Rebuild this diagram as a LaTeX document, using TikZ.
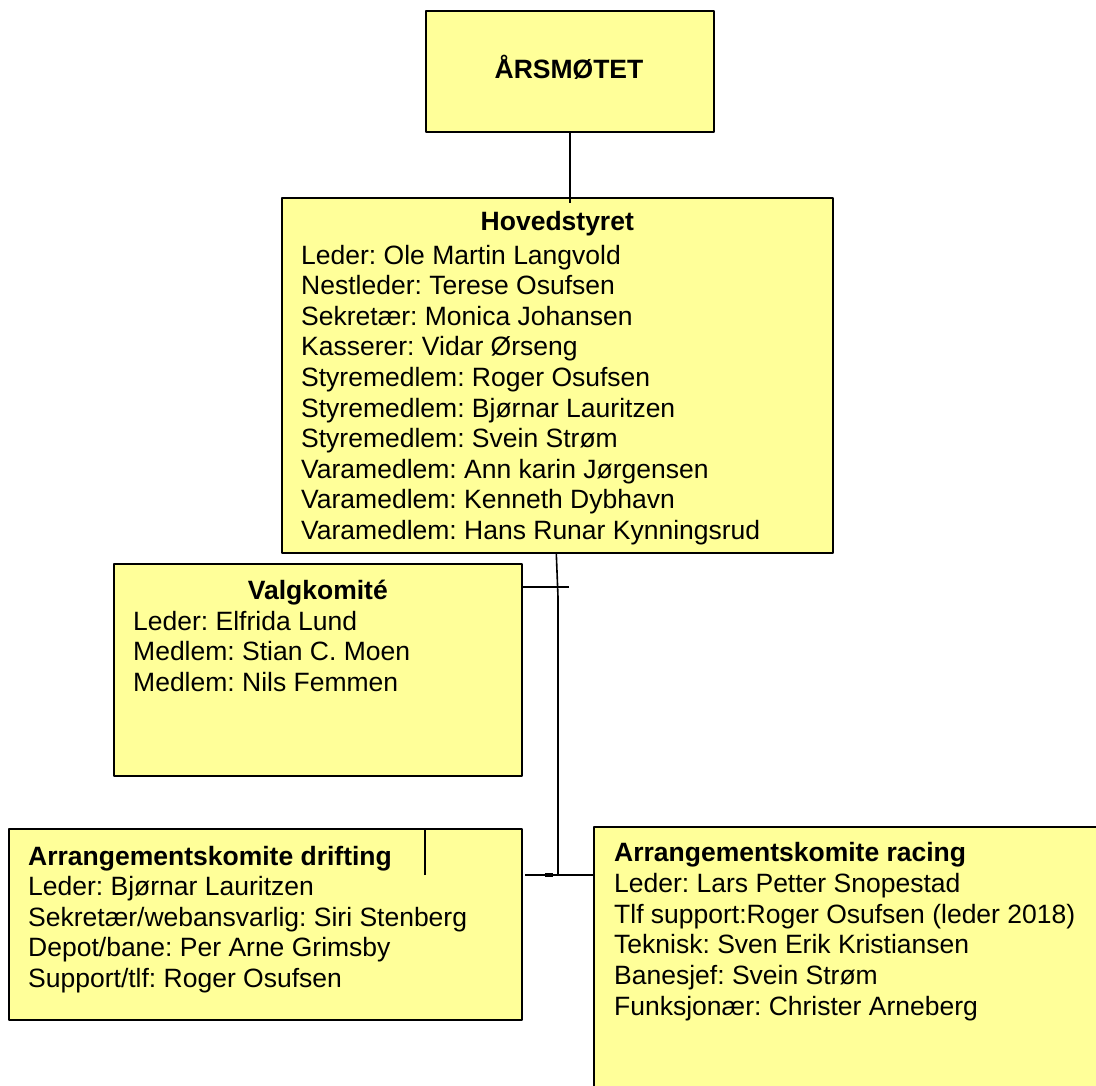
\documentclass[tikz,border=0pt]{standalone}
\usepackage{fontspec}
\setmainfont{Liberation Sans}
\usetikzlibrary{positioning}
\definecolor{boxyellow}{RGB}{255,255,153}
\newcommand{\orgfont}{\fontsize{26.5}{30.6}\selectfont\frenchspacing}
\tikzset{
  orgbox/.style={draw=black, line width=1.6pt, fill=boxyellow, anchor=north west, inner sep=0pt},
  boxtitle/.style={font=\orgfont\bfseries, anchor=base, inner sep=0pt},
  member/.style={anchor=base west, inner sep=0pt},
  link/.style={line width=1.6pt}
}
\begin{document}
\begin{tikzpicture}[x=1pt, y=-1pt, font=\orgfont, line join=round]
\useasboundingbox (0,0) rectangle (1096,1086);
% boxes
\node[orgbox, minimum width=288, minimum height=121] (aars) at (425,10) {};
\node[orgbox, minimum width=551, minimum height=355] (hoved) at (281,197) {};
\node[orgbox, minimum width=408, minimum height=212] (valg) at (113,563) {};
\node[orgbox, minimum width=513, minimum height=191] (drift) at (8,828) {};
\node[orgbox, minimum width=510, minimum height=270] (racing) at (593,826) {};
% connectors
\coordinate (knee) at (558,597);
\coordinate (fork) at (558,875);
\coordinate (vtap) at (569,587);
\coordinate (rtap) at (525,875);
\coordinate (dtap) at (425,875);
\draw[link] (aars.south) -- ([yshift=-6pt]aars.south |- hoved.north);
\draw[link] ([xshift=-1pt]hoved.south) -- (knee) -- (fork);
\draw[link] (vtap) -- (vtap -| valg.east);
\draw[link] (rtap) -- (rtap -| racing.west);
\draw[link] (dtap) -- (dtap |- drift.north);
\draw[line width=3.5pt] ([xshift=20pt]rtap) -- ([xshift=28pt]rtap);
% texts
\node[boxtitle] (aarstxt) at (569,79) {ÅRSMØTET};
\node[boxtitle] (hovedtxt) at ([yshift=-34pt]hoved.north) {Hovedstyret};
\foreach \line [count=\i] in {Leder: Ole Martin Langvold, Nestleder: Terese Osufsen,
  Sekretær: Monica Johansen, Kasserer: Vidar Ørseng, Styremedlem: Roger Osufsen,
  Styremedlem: Bjørnar Lauritzen, Styremedlem: Svein Strøm,
  Varamedlem: Ann karin Jørgensen, Varamedlem: Kenneth Dybhavn,
  Varamedlem: Hans Runar Kynningsrud}
  \node[member] (hoved\i) at (301,{233.5+30.6*\i}) {\line};
\node[boxtitle] (valgtxt) at ([yshift=-36pt]valg.north) {Valgkomité};
\foreach \line [count=\i] in {Leder: Elfrida Lund, Medlem: Stian C. Moen, Medlem: Nils Femmen}
  \node[member] (valg\i) at (133,{599.4+30.6*\i}) {\line};
\node[boxtitle, anchor=base west] (drifttxt) at (28,865) {Arrangementskomite drifting};
\foreach \line [count=\i] in {Leder: Bjørnar Lauritzen, Sekretær/webansvarlig: Siri Stenberg,
  Depot/bane: Per Arne Grimsby, Support/tlf: Roger Osufsen}
  \node[member] (drift\i) at (28,{865+30.5*\i}) {\line};
\node[boxtitle, anchor=base west] (racingtxt) at (614,861.7) {Arrangementskomite racing};
\foreach \line [count=\i] in {Leder: Lars Petter Snopestad, Tlf support:Roger Osufsen (leder 2018),
  Teknisk: Sven Erik Kristiansen, Banesjef: Svein Strøm, Funksjonær: Christer Arneberg}
  \node[member] (racing\i) at (614,{861.7+30.7*\i}) {\line};
\end{tikzpicture}
\end{document}
